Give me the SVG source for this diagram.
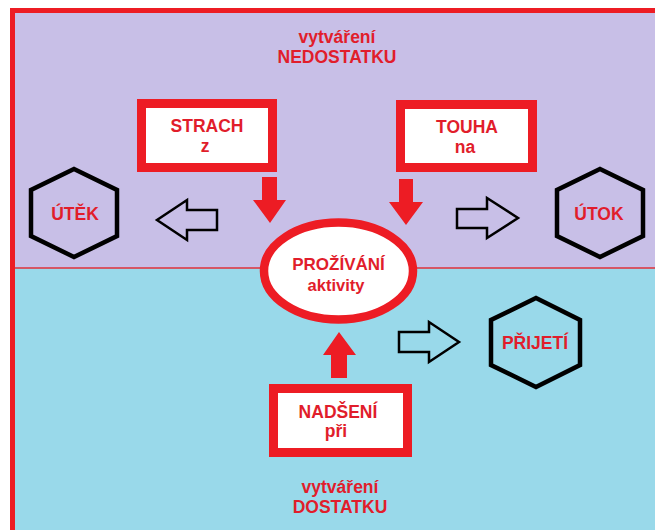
<svg xmlns="http://www.w3.org/2000/svg" width="655" height="530" viewBox="0 0 655 530">
<style>
.t{font-family:"Liberation Sans",Arial,sans-serif;font-weight:bold;fill:#e11d2b;text-anchor:middle;font-size:17.5px}
.box{fill:#ffffff;stroke:#ed1c24;stroke-width:9}
.hex{fill:none;stroke:#000000;stroke-width:4.5;stroke-linejoin:miter}
.red{fill:#ed1c24;stroke:none}
.hol{fill:none;stroke:#000000;stroke-width:2.5;stroke-linejoin:miter}
</style>
<rect x="0" y="0" width="655" height="530" fill="#ffffff"/>
<g id="background">
<rect x="12" y="10" width="660" height="258" fill="#c8bfe7"/>
<rect x="12" y="268" width="660" height="280" fill="#99d9ea"/>
<line x1="12" y1="268" x2="655" y2="268" stroke="#e0303a" stroke-width="1.5"/>
<path d="M12.5 540 V10.5 H660" fill="none" stroke="#ed1c24" stroke-width="5"/>
</g>
<g id="label-top">
<text class="t" x="337" y="43">vytváření</text>
<text class="t" x="337" y="63">NEDOSTATKU</text>
</g>
<g id="label-bottom">
<text class="t" x="340" y="493">vytváření</text>
<text class="t" x="340" y="513">DOSTATKU</text>
</g>
<g id="connectors">
<polygon class="red" points="262,177 277,177 277,200 286,200 270,223 253,200 262,200"/>
<polygon class="red" points="399,179 413,179 413,202 423,202 406,225 389,202 399,202"/>
<polygon class="red" points="331,378 347,378 347,355 356,355 339,332 323,355 331,355"/>
<polygon class="hol" points="217,210 187,210 187,200 157,220 187,240 187,230 217,230"/>
<polygon class="hol" points="457,209 487,209 487,198 518,218 487,238 487,228 457,228"/>
<polygon class="hol" points="399,332 429,332 429,322 459,342 429,362 429,352 399,352"/>
</g>
<g id="strach">
<rect class="box" x="141.5" y="103.5" width="131" height="64"/>
<text class="t" x="207" y="132">STRACH</text>
<text class="t" x="205" y="152">z</text>
</g>
<g id="touha">
<rect class="box" x="400.5" y="104.5" width="132" height="63"/>
<text class="t" x="467" y="133">TOUHA</text>
<text class="t" x="465" y="153">na</text>
</g>
<g id="nadseni">
<rect class="box" x="273.5" y="388.5" width="134" height="64"/>
<text class="t" x="338" y="418">NADŠENÍ</text>
<text class="t" x="336" y="437">při</text>
</g>
<g id="prozivani">
<ellipse cx="338.5" cy="271" rx="74.5" ry="48.5" fill="#ffffff" stroke="#ed1c24" stroke-width="8.5"/>
<text class="t" x="338.5" y="270" style="font-size:17px">PROŽÍVÁNÍ</text>
<text class="t" x="336" y="291" style="font-size:16.5px">aktivity</text>
</g>
<g id="utek">
<polygon class="hex" points="74,169 117,190 117,236 74,257 31,236 31,190"/>
<text class="t" x="75" y="220">ÚTĚK</text>
</g>
<g id="utok">
<polygon class="hex" points="600,169 643,190 643,236 600,257 557,236 557,190"/>
<text class="t" x="599" y="220">ÚTOK</text>
</g>
<g id="prijeti">
<polygon class="hex" points="536,298 580,320 580,365 536,387 491,365 491,320"/>
<text class="t" x="535" y="349">PŘIJETÍ</text>
</g>
</svg>
